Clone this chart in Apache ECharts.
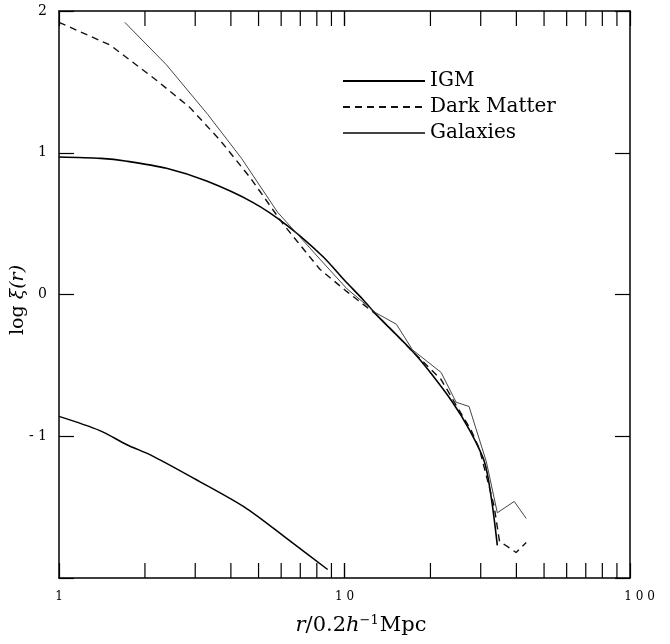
<!DOCTYPE html>
<html lang="en">
<head>
    <meta charset="UTF-8">
    <title>log xi(r)</title>
    <script src="https://cdn.jsdelivr.net/npm/echarts@6/dist/echarts.min.js"></script>
    <style>
        html, body { margin: 0; padding: 0; background: #fff; }
    </style>
</head>
<body>
<div id="main" style="width:670px;height:644px;"></div>
<script>
    // r / 0.2 h^-1 Mpc  ->  log xi(r)
    var igm = [
        [1, 0.97], [1.4, 0.96], [1.73, 0.94], [2.38, 0.89], [3.29, 0.80],
        [4.77, 0.65], [6.27, 0.49], [8.38, 0.27], [10, 0.10], [11.6, -0.035],
        [12.9, -0.14], [17.3, -0.40], [19.8, -0.54], [23.9, -0.76], [27.3, -0.95],
        [30.9, -1.18], [32.7, -1.44], [34.3, -1.77]
    ];
    var darkMatter = [
        [1, 1.92], [1.51, 1.76], [2.2, 1.51], [2.87, 1.32], [3.66, 1.09],
        [4.65, 0.83], [6.08, 0.50], [8.18, 0.18], [10.2, 0.02], [12.9, -0.14],
        [17.3, -0.40], [21.8, -0.60], [24.6, -0.78], [27.8, -0.96], [29.7, -1.09],
        [33.4, -1.49], [34.9, -1.74], [39.9, -1.82], [43.3, -1.75]
    ];
    var galaxies = [
        [1.70, 1.92], [2.38, 1.62], [3.32, 1.27], [4.36, 0.96], [5.83, 0.58],
        [6.27, 0.51], [8.2, 0.25], [10.2, 0.04], [12.9, -0.13], [15.2, -0.21],
        [17.3, -0.39], [21.8, -0.55], [24.6, -0.76], [27.3, -0.79], [31.4, -1.18],
        [34.3, -1.54], [39.3, -1.46], [43.3, -1.58]
    ];
    // lower curve, no legend entry
    var lowerCurve = [
        [1, -0.86], [1.39, -0.96], [1.73, -1.06], [2.13, -1.14], [3.11, -1.32],
        [4.54, -1.51], [6.27, -1.72], [8.73, -1.94]
    ];
    var xTicks = [2, 3, 4, 5, 6, 7, 8, 9, 10, 20, 30, 40, 50, 60, 70, 80, 90];
    var xLabels = {1: '1', 10: '1 0', 100: '     1 0 0'};
    var yLabels = {'2': '2', '1': '1', '0': '0', '-1': '- 1', '-2': ''};

    var serif = 'DejaVu Serif, Liberation Serif, serif';
    var myChart = echarts.init(document.getElementById('main'));

    function frameLine() {
        return {show: true, onZero: false, lineStyle: {color: '#000', width: 1.5}};
    }
    function tickIn() {
        return {show: true, inside: true, length: 15, lineStyle: {color: '#000', width: 1.2}};
    }
    // top frame ticks, drawn by a custom series
    function topTickSeries() {
        return {
            type: 'custom', clip: false,
            data: xTicks.map(function (v) { return [v, 0]; }),
            renderItem: function (params, api) {
                var p = api.coord([api.value(0), 2]);
                return {type: 'line', shape: {x1: p[0], y1: p[1], x2: p[0], y2: p[1] + 15},
                    style: {stroke: '#000', lineWidth: 1.2}};
            }
        };
    }
    // bottom frame ticks, drawn as short broken line segments (15px of the 567px span of 4 units)
    function bottomTickSeries() {
        var len = 15 / 567 * 4;
        var pts = [];
        xTicks.forEach(function (v) {
            pts.push([v, -2], [v, -2 + len], [v, null]);
        });
        return {
            type: 'line', data: pts, symbol: 'none', silent: true, connectNulls: false,
            lineStyle: {color: '#000', width: 1.2}
        };
    }

    var titleRich = {
        i: {fontFamily: serif, fontStyle: 'italic', fontSize: 21, fill: '#000', color: '#000'},
        n: {fontFamily: serif, fontSize: 21, fill: '#000', color: '#000'},
        s: {fontFamily: serif, fontSize: 13, fill: '#000', color: '#000', padding: [0, 1, 11, 0]}
    };
    var yRich = {
        i: {fontFamily: serif, fontStyle: 'italic', fontSize: 19, fill: '#000', color: '#000'},
        n: {fontFamily: serif, fontSize: 19, fill: '#000', color: '#000'}
    };

    var option = {
        animation: false,
        grid: {left: 59, right: 40, top: 11, bottom: 66, outerBoundsMode: 'none'},
        graphic: [
            {
                type: 'text', x: 361, y: 626, silent: true,
                style: {text: '{i|r}{n|/0.2}{i|h}{s|−1}{n|Mpc}', rich: titleRich,
                    align: 'center', verticalAlign: 'middle'}
            },
            {
                type: 'text', x: 18, y: 300, rotation: Math.PI / 2, silent: true,
                style: {text: '{n|log }{i|ξ(r)}', rich: yRich,
                    align: 'center', verticalAlign: 'middle'}
            }
        ],
        legend: {
            data: ['IGM', 'Dark Matter', 'Galaxies'],
            orient: 'vertical',
            left: 337,
            top: 66,
            itemWidth: 82,
            itemHeight: 14,
            itemGap: 6,
            itemStyle: {opacity: 0},
            textStyle: {fontFamily: serif, fontSize: 20, color: '#000'}
        },
        xAxis: [
            {
                type: 'log', logBase: 10, min: 1, max: 100, position: 'bottom',
                axisLine: frameLine(), axisTick: tickIn(), splitLine: {show: false},
                axisLabel: {
                    margin: 13, color: '#000', fontFamily: serif, fontSize: 12,
                    formatter: function (v) { return xLabels[Math.round(v)] || ''; }
                }
            },
            {
                type: 'log', logBase: 10, min: 1, max: 100, position: 'top',
                axisLine: frameLine(), axisTick: tickIn(), splitLine: {show: false},
                axisLabel: {show: false}
            }
        ],
        yAxis: [
            {
                type: 'value', min: -2, max: 2, interval: 1, position: 'left',
                axisLine: frameLine(), axisTick: tickIn(), splitLine: {show: false},
                axisLabel: {
                    margin: 12, color: '#000', fontFamily: serif, fontSize: 14,
                    formatter: function (v) { return yLabels[String(v)]; }
                }
            },
            {
                type: 'value', min: -2, max: 2, interval: 1, position: 'right',
                axisLine: frameLine(), axisTick: tickIn(), splitLine: {show: false},
                axisLabel: {show: false}
            }
        ],
        series: [
            {
                name: 'IGM', type: 'line', data: igm, symbol: 'none', smooth: 0.3,
                color: '#000', lineStyle: {color: '#000', width: 1.6}
            },
            {
                name: 'Dark Matter', type: 'line', data: darkMatter, symbol: 'none',
                color: '#111', lineStyle: {color: '#111', width: 1.4, type: [7, 5]}
            },
            {
                name: 'Galaxies', type: 'line', data: galaxies, symbol: 'none',
                color: '#444', lineStyle: {color: '#444', width: 1}
            },
            {
                name: 'lower', type: 'line', data: lowerCurve, symbol: 'none', smooth: 0.3,
                color: '#000', lineStyle: {color: '#000', width: 1.5}
            },
            bottomTickSeries(),
            topTickSeries()
        ]
    };

    myChart.setOption(option);
</script>
</body>
</html>
